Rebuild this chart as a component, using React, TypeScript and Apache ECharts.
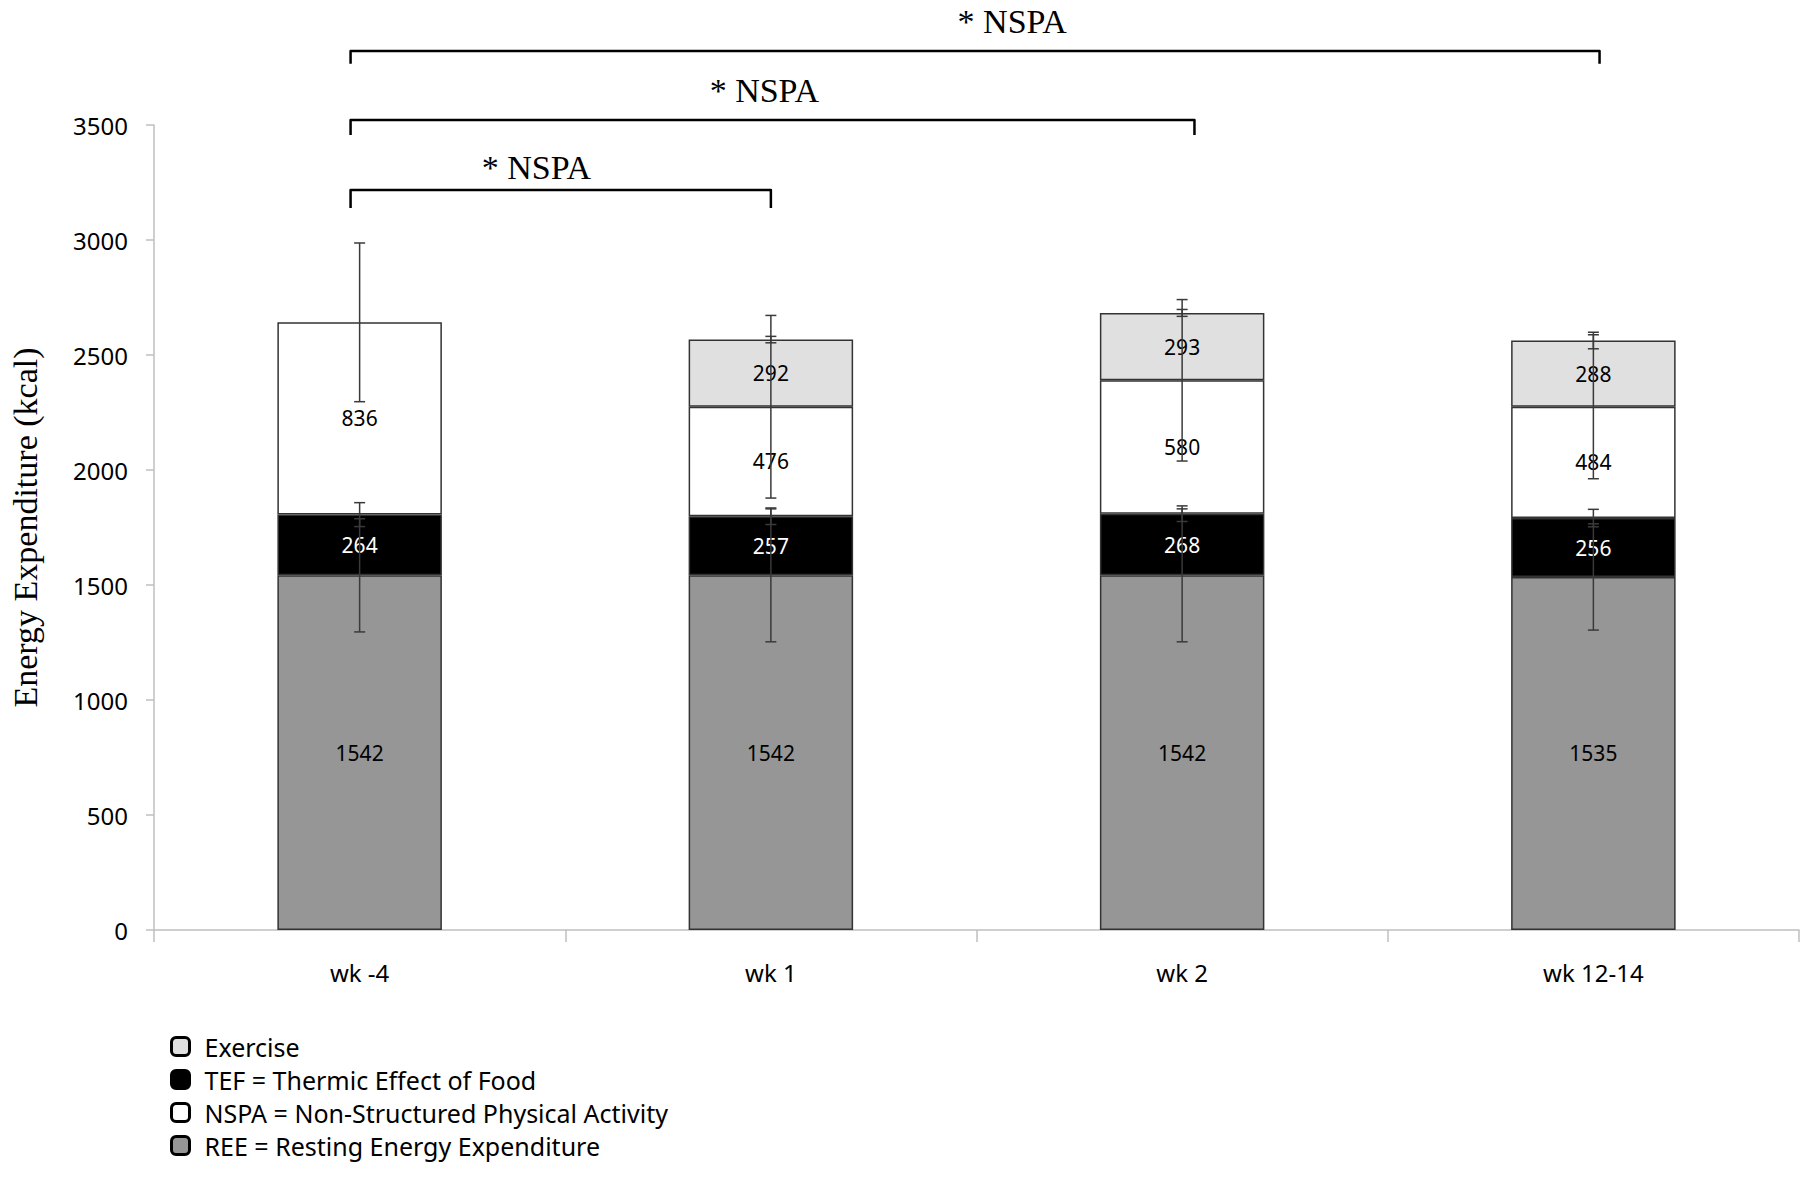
import React, { useEffect, useRef } from "react";
import * as echarts from "echarts";

const categories = ["wk -4", "wk 1", "wk 2", "wk 12-14"];
const reeValues = [1542, 1542, 1542, 1535];
const tefValues = [264, 257, 268, 256];
const nspaValues = [836, 476, 580, 484];
const exerciseValues: (number | null)[] = [null, 292, 293, 288];

const reeErr = [246, 289, 289, 231];
const tefErr = [52, 36, 34, 38];
const nspaErr = [345, 397, 351, 313];
const exerciseErr: (number | null)[] = [null, 14, 15, 36];

const seriesNames = [
  "REE = Resting Energy Expenditure",
  "TEF = Thermic Effect of Food",
  "NSPA = Non-Structured Physical Activity",
  "Exercise",
];
const legendOrder = [
  "Exercise",
  "TEF = Thermic Effect of Food",
  "NSPA = Non-Structured Physical Activity",
  "REE = Resting Energy Expenditure",
];

// significance brackets (category index units / kcal units)
const bracketLabels = ["* NSPA", "* NSPA", "* NSPA"];
const bracketStart = [-0.022, -0.022, -0.022];
const bracketEnd = [1.0, 2.03, 3.015];
const bracketLineY = [3217, 3522, 3822];
const bracketTickY = [3139, 3457, 3766];
const bracketLabelX = [0.43, 0.984, 1.587];
const bracketLabelY = [3317, 3648, 3952];

const yMin = 0;
const yMax = 3500;
const yInterval = 500;

export default function App() {
  const ref = useRef<HTMLDivElement>(null);

  useEffect(() => {
    document.body.style.margin = "0";
    if (!ref.current) return;
    const chart = echarts.init(ref.current, undefined, { renderer: "svg" });

    const errData: number[][] = [];
    for (let i = 0; i < categories.length; i++) {
      let top = reeValues[i];
      errData.push([i, top, reeErr[i]]);
      top += tefValues[i];
      errData.push([i, top, tefErr[i]]);
      top += nspaValues[i];
      errData.push([i, top, nspaErr[i]]);
      const ex = exerciseValues[i];
      const exE = exerciseErr[i];
      if (ex != null && exE != null) {
        top += ex;
        errData.push([i, top, exE]);
      }
    }

    const bracketData = bracketLineY.map((y, i) => [0, y, i]);

    const labelFont = "Noto Sans";
    const barBase = {
      type: "bar" as const,
      stack: "total",
      barWidth: "40%",
      label: {
        show: true,
        position: "inside" as const,
        fontSize: 21,
        fontFamily: labelFont,
        color: "#000",
      },
    };

    const option: any = {
      animation: false,
      backgroundColor: "#ffffff",
      grid: { left: 154, right: 13, top: 125, bottom: 247, containLabel: false },
      legend: {
        orient: "vertical",
        left: 165,
        top: 1029,
        height: 140,
        itemWidth: 18,
        itemHeight: 18,
        itemGap: 8,
        icon: "roundRect",
        data: legendOrder,
        itemStyle: { borderColor: "#000", borderWidth: 3 },
        textStyle: {
          fontSize: 25,
          lineHeight: 24,
          fontFamily: labelFont,
          color: "#000",
          padding: [0, 0, 0, 10],
        },
      },
      xAxis: {
        type: "category",
        data: categories,
        axisLine: { lineStyle: { color: "#bfbfbf", width: 1.5 } },
        axisTick: { show: true, length: 12, lineStyle: { color: "#bfbfbf", width: 1.5 } },
        axisLabel: { fontSize: 24, fontFamily: labelFont, color: "#000", margin: 30 },
        splitLine: { show: false },
      },
      yAxis: {
        type: "value",
        min: yMin,
        max: yMax,
        interval: yInterval,
        name: "Energy Expenditure (kcal)",
        nameLocation: "middle",
        nameGap: 112,
        nameTextStyle: { fontFamily: "Liberation Serif", fontSize: 34, color: "#000" },
        axisLine: { show: true, lineStyle: { color: "#bfbfbf", width: 1.5 } },
        axisTick: { show: true, length: 8, lineStyle: { color: "#bfbfbf", width: 1.5 } },
        axisLabel: {
          fontSize: 24,
          fontFamily: labelFont,
          color: "#000",
          margin: 26,
          formatter: (v: number) => String(v),
        },
        splitLine: { show: false },
      },
      series: [
        {
          ...barBase,
          name: seriesNames[0],
          data: reeValues,
          itemStyle: { color: "#969696", borderColor: "#333", borderWidth: 1.5 },
        },
        {
          ...barBase,
          name: seriesNames[1],
          data: tefValues,
          itemStyle: { color: "#000000", borderColor: "#333", borderWidth: 1.5 },
          label: { ...barBase.label, color: "#fff" },
        },
        {
          ...barBase,
          name: seriesNames[2],
          data: nspaValues,
          itemStyle: { color: "#ffffff", borderColor: "#333", borderWidth: 1.5 },
        },
        {
          ...barBase,
          name: seriesNames[3],
          data: exerciseValues.map((v) => (v == null ? "-" : v)),
          itemStyle: { color: "#e0e0e0", borderColor: "#333", borderWidth: 1.5 },
        },
        {
          type: "custom",
          name: "errors",
          z: 10,
          clip: false,
          data: errData,
          encode: { x: 0, y: 1 },
          renderItem: (params: any, api: any) => {
            const xi = api.value(0);
            const v = api.value(1);
            const e = api.value(2);
            const hi = api.coord([xi, v + e]);
            const lo = api.coord([xi, v - e]);
            const cw = 5.5;
            const st = { stroke: "#3a3a3a", lineWidth: 1.5 };
            return {
              type: "group",
              children: [
                { type: "line", shape: { x1: hi[0], y1: hi[1], x2: lo[0], y2: lo[1] }, style: st },
                { type: "line", shape: { x1: hi[0] - cw, y1: hi[1], x2: hi[0] + cw, y2: hi[1] }, style: st },
                { type: "line", shape: { x1: lo[0] - cw, y1: lo[1], x2: lo[0] + cw, y2: lo[1] }, style: st },
              ],
            };
          },
        },
        {
          type: "custom",
          name: "brackets",
          z: 10,
          clip: false,
          data: bracketData,
          encode: { x: 0, y: 1 },
          renderItem: (params: any, api: any) => {
            const i = params.dataIndex;
            const c0 = api.coord([0, bracketLineY[i]]);
            const bw = api.size([1, 0])[0];
            const x1 = c0[0] + bracketStart[i] * bw;
            const x2 = c0[0] + bracketEnd[i] * bw;
            const yl = c0[1];
            const yt = api.coord([0, bracketTickY[i]])[1];
            const lp = api.coord([0, bracketLabelY[i]]);
            const lx = c0[0] + bracketLabelX[i] * bw;
            return {
              type: "group",
              children: [
                {
                  type: "polyline",
                  shape: { points: [[x1, yt], [x1, yl], [x2, yl], [x2, yt]] },
                  style: { stroke: "#000", lineWidth: 2.5, fill: null, lineJoin: "round" },
                },
                {
                  type: "text",
                  style: {
                    text: bracketLabels[i],
                    x: lx,
                    y: lp[1],
                    fill: "#000",
                    fontSize: 34,
                    fontFamily: "Liberation Serif",
                    align: "center",
                    verticalAlign: "middle",
                  },
                },
              ],
            };
          },
        },
      ],
    };

    chart.setOption(option);
    return () => chart.dispose();
  }, []);

  return <div ref={ref} style={{ width: 1812, height: 1177 }} />;
}
